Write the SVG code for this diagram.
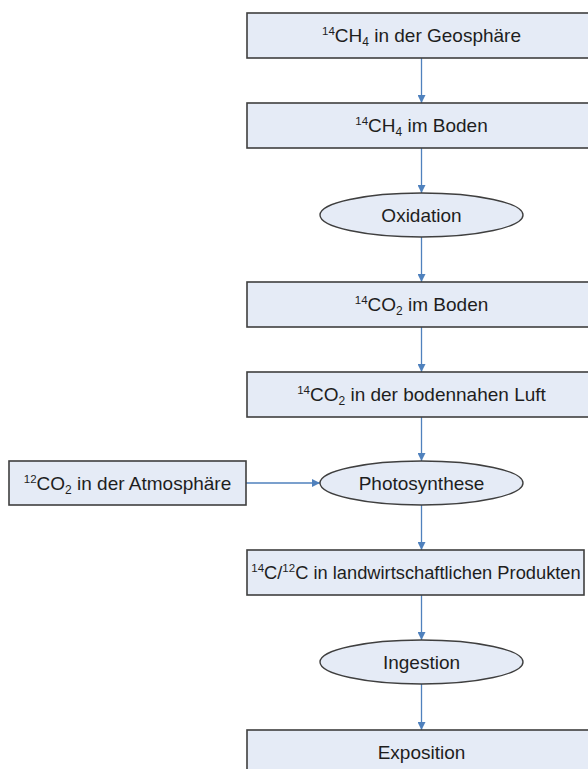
<svg xmlns="http://www.w3.org/2000/svg" width="588" height="769" viewBox="0 0 588 769">
  <style>
    .box { fill: #e5ebf6; stroke: #3f3f3f; stroke-width: 1.6; }
    .oval { fill: #e5ebf6; stroke: #3f3f3f; stroke-width: 1.4; }
    .lbl { font-family: "Liberation Sans", Arial, sans-serif; font-size: 19px; fill: #1e1e1e; text-anchor: middle; }
    .sup { font-size: 11.5px; }
    .sub { font-size: 12px; }
    .flow { stroke: #4f81bd; stroke-width: 1.3; fill: none; marker-end: url(#head); }
  </style>
  <defs>
    <marker id="head" viewBox="0 0 10 10" refX="10" refY="5" markerWidth="8" markerHeight="8" markerUnits="userSpaceOnUse" orient="auto">
      <path d="M0,0 L10,5 L0,10 Z" fill="#4f81bd"/>
    </marker>
  </defs>

  <rect width="588" height="769" fill="#ffffff"/>

  <!-- connectors -->
  <g id="connectors">
    <line class="flow" x1="421.5" y1="58" x2="421.5" y2="103"/>
    <line class="flow" x1="421.5" y1="148" x2="421.5" y2="193"/>
    <line class="flow" x1="421.5" y1="237" x2="421.5" y2="282"/>
    <line class="flow" x1="421.5" y1="327" x2="421.5" y2="372"/>
    <line class="flow" x1="421.5" y1="417" x2="421.5" y2="461"/>
    <line class="flow" x1="246" y1="483" x2="320" y2="483"/>
    <line class="flow" x1="421.5" y1="505" x2="421.5" y2="550"/>
    <line class="flow" x1="421.5" y1="595" x2="421.5" y2="640"/>
    <line class="flow" x1="421.5" y1="684" x2="421.5" y2="730"/>
  </g>

  <g id="ch4-geosphaere">
    <rect class="box" x="247" y="13" width="350" height="45"/>
    <text class="lbl" x="421.5" y="42"><tspan class="sup" dy="-7">14</tspan><tspan dy="7">CH</tspan><tspan class="sub" dy="4">4</tspan><tspan dy="-4"> in der Geosphäre</tspan></text>
  </g>

  <g id="ch4-boden">
    <rect class="box" x="247" y="103" width="350" height="45"/>
    <text class="lbl" x="421.5" y="132"><tspan class="sup" dy="-7">14</tspan><tspan dy="7">CH</tspan><tspan class="sub" dy="4">4</tspan><tspan dy="-4"> im Boden</tspan></text>
  </g>

  <g id="oxidation">
    <ellipse class="oval" cx="421.5" cy="215" rx="101.5" ry="22"/>
    <text class="lbl" x="421.5" y="221.5">Oxidation</text>
  </g>

  <g id="co2-boden">
    <rect class="box" x="247" y="282" width="350" height="45"/>
    <text class="lbl" x="421.5" y="311"><tspan class="sup" dy="-7">14</tspan><tspan dy="7">CO</tspan><tspan class="sub" dy="4">2</tspan><tspan dy="-4"> im Boden</tspan></text>
  </g>

  <g id="co2-luft">
    <rect class="box" x="247" y="372" width="350" height="45"/>
    <text class="lbl" x="421.5" y="401"><tspan class="sup" dy="-7">14</tspan><tspan dy="7">CO</tspan><tspan class="sub" dy="4">2</tspan><tspan dy="-4"> in der bodennahen Luft</tspan></text>
  </g>

  <g id="co2-atmosphaere">
    <rect class="box" x="9" y="461" width="237" height="44"/>
    <text class="lbl" x="127.5" y="489.5"><tspan class="sup" dy="-7">12</tspan><tspan dy="7">CO</tspan><tspan class="sub" dy="4">2</tspan><tspan dy="-4"> in der Atmosphäre</tspan></text>
  </g>

  <g id="photosynthese">
    <ellipse class="oval" cx="421.5" cy="483" rx="101.5" ry="22"/>
    <text class="lbl" x="421.5" y="489.5">Photosynthese</text>
  </g>

  <g id="produkte">
    <rect class="box" x="247" y="550" width="337" height="45"/>
    <text class="lbl" x="416" y="579" style="font-size:18.3px"><tspan class="sup" dy="-7">14</tspan><tspan dy="7">C/</tspan><tspan class="sup" dy="-7">12</tspan><tspan dy="7">C in landwirtschaftlichen Produkten</tspan></text>
  </g>

  <g id="ingestion">
    <ellipse class="oval" cx="421.5" cy="662" rx="101.5" ry="22"/>
    <text class="lbl" x="421.5" y="668.5">Ingestion</text>
  </g>

  <g id="exposition">
    <rect class="box" x="247" y="730" width="350" height="45"/>
    <text class="lbl" x="421.5" y="759">Exposition</text>
  </g>
</svg>
